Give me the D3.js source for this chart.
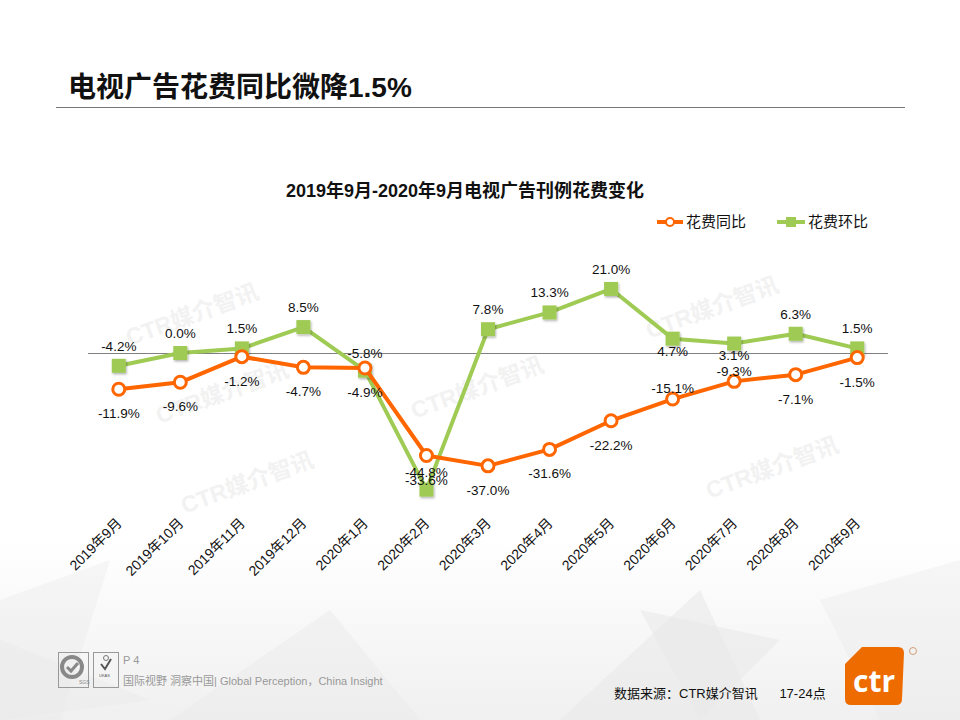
<!DOCTYPE html>
<html lang="zh">
<head>
  <meta charset="UTF-8" />
  <title>电视广告花费同比微降1.5%</title>
  <style>
    body { margin: 0; background: #fff; }
    svg { display: block; font-family: "Liberation Sans", Arial, "Noto Sans CJK SC", sans-serif; }
  </style>
</head>
<body>
  <svg width="960" height="720"></svg>

  <script src="https://cdnjs.cloudflare.com/ajax/libs/d3/7.8.5/d3.min.js"></script>
  <script>
    // chart data
    const months = ["2019年9月", "2019年10月", "2019年11月", "2019年12月", "2020年1月", "2020年2月",
      "2020年3月", "2020年4月", "2020年5月", "2020年6月", "2020年7月", "2020年8月", "2020年9月"];
    // plotted positions (Feb points sit swapped against their labels)
    const tongbi = [-11.9, -9.6, -1.2, -4.7, -4.9, -33.6, -37.0, -31.6, -22.2, -15.1, -9.3, -7.1, -1.5];
    const huanbi = [-4.2, 0.0, 1.5, 8.5, -5.8, -44.8, 7.8, 13.3, 21.0, 4.7, 3.1, 6.3, 1.5];
    const tongbiLabels = ["-11.9%", "-9.6%", "-1.2%", "-4.7%", "-4.9%", "-44.8%", "-37.0%", "-31.6%", "-22.2%", "-15.1%", "-9.3%", "-7.1%", "-1.5%"];
    const huanbiLabels = ["-4.2%", "0.0%", "1.5%", "8.5%", "-5.8%", "-33.6%", "7.8%", "13.3%", "21.0%", "4.7%", "3.1%", "6.3%", "1.5%"];
    const seriesNames = ["花费同比", "花费环比"];
    const yDomain = [-50, 30];

    const orange = "#ff6600";
    const green = "#9fcb55";

    const svg = d3.select("svg");

    // background shading at the bottom
    const defs = svg.append("defs");
    const grad = defs.append("linearGradient").attr("id", "bg").attr("x1", 0).attr("y1", 0).attr("x2", 0).attr("y2", 1);
    grad.append("stop").attr("offset", "0").attr("stop-color", "#fff");
    grad.append("stop").attr("offset", "1").attr("stop-color", "#f0f0f0");
    svg.append("rect").attr("x", 0).attr("y", 540).attr("width", 960).attr("height", 180).attr("fill", "url(#bg)");

    const polys = [
      [[0, 600], [110, 560], [60, 720], [0, 720]],
      [[170, 720], [330, 610], [420, 720]],
      [[560, 720], [700, 590], [760, 720]],
      [[820, 600], [960, 560], [960, 720], [880, 720]],
      [[0, 640], [150, 700], [0, 720]],
      [[640, 610], [780, 640], [700, 720]]
    ];
    svg.append("g").selectAll("polygon").data(polys).join("polygon")
      .attr("points", d => d.map(p => p.join(",")).join(" "))
      .attr("fill", "#e9e9e9")
      .attr("opacity", (d, i) => 0.35 + (i % 3) * 0.12);

    // watermarks
    const marks = [[195, 322], [225, 400], [250, 490], [480, 395], [715, 315], [775, 475]];
    svg.append("g").selectAll("text").data(marks).join("text")
      .attr("transform", d => `translate(${d[0]},${d[1]}) rotate(-20)`)
      .attr("text-anchor", "middle")
      .attr("font-size", 23)
      .attr("font-weight", "bold")
      .attr("fill", "#f2f2f2")
      .text("CTR媒介智讯");

    // page title
    svg.append("text")
      .attr("x", 68).attr("y", 97)
      .attr("font-size", 28).attr("font-weight", "bold")
      .attr("fill", "#111")
      .text("电视广告花费同比微降1.5%");
    svg.append("line")
      .attr("x1", 56).attr("x2", 905).attr("y1", 107.5).attr("y2", 107.5)
      .attr("stroke", "#777").attr("stroke-width", 1);

    // chart title
    svg.append("text")
      .attr("x", 465).attr("y", 197)
      .attr("text-anchor", "middle")
      .attr("font-size", 18).attr("font-weight", "bold")
      .attr("fill", "#111")
      .text("2019年9月-2020年9月电视广告刊例花费变化");

    // scales
    const x = d3.scaleBand().domain(months).range([88, 888]).padding(0);
    const cx = d => x(d) + x.bandwidth() / 2;
    const y = d3.scaleLinear().domain(yDomain).range([505.5, 261.5]);

    // x axis labels, no line or ticks
    const xAxis = svg.append("g")
      .attr("transform", `translate(0,${y(0)})`)
      .call(d3.axisBottom(x).tickSize(0).tickPadding(0));
    xAxis.attr("font-family", null).attr("font-size", null);
    xAxis.select(".domain").remove();
    xAxis.selectAll("text")
      .attr("font-size", 14)
      .attr("fill", "#111")
      .attr("text-anchor", "end")
      .attr("dy", null)
      .attr("transform", `translate(4,${524 - y(0)}) rotate(-45)`);

    // zero line
    svg.append("line")
      .attr("x1", 88).attr("x2", 888)
      .attr("y1", Math.round(y(0)) + 0.5).attr("y2", Math.round(y(0)) + 0.5)
      .attr("stroke", "#808080").attr("stroke-width", 1);

    const line = d3.line().x((d, i) => cx(months[i])).y(d => y(d));

    // green series
    const shadow = defs.append("filter").attr("id", "sh").attr("x", "-30%").attr("y", "-30%").attr("width", "170%").attr("height", "170%");
    shadow.append("feDropShadow").attr("dx", 1).attr("dy", 1.5).attr("stdDeviation", 1).attr("flood-color", "#000").attr("flood-opacity", 0.3);

    svg.append("path").datum(huanbi)
      .attr("d", line).attr("fill", "none")
      .attr("stroke", green).attr("stroke-width", 4).attr("stroke-linejoin", "round");
    svg.append("g").selectAll("rect").data(huanbi).join("rect")
      .attr("x", (d, i) => cx(months[i]) - 7)
      .attr("y", d => y(d) - 7)
      .attr("width", 14).attr("height", 14)
      .attr("fill", green)
      .attr("filter", "url(#sh)");

    // orange series
    svg.append("path").datum(tongbi)
      .attr("d", line).attr("fill", "none")
      .attr("stroke", orange).attr("stroke-width", 4).attr("stroke-linejoin", "round");
    svg.append("g").selectAll("circle").data(tongbi).join("circle")
      .attr("cx", (d, i) => cx(months[i]))
      .attr("cy", d => y(d))
      .attr("r", 6)
      .attr("fill", "#fff")
      .attr("stroke", orange).attr("stroke-width", 3);

    // data labels: green above, orange below, with a few nudged points
    const greenDy = {4: -18, 5: -10, 9: 12, 10: 11};
    const orangeDy = {5: 17, 9: -11, 10: -10};
    const labelGroup = svg.append("g")
      .attr("font-size", 13.5).attr("fill", "#111").attr("text-anchor", "middle");
    labelGroup.selectAll("text.g").data(huanbi).join("text")
      .attr("class", "g")
      .attr("x", (d, i) => cx(months[i]))
      .attr("y", (d, i) => y(d) + (greenDy[i] !== undefined ? greenDy[i] : -20) + 5)
      .text((d, i) => huanbiLabels[i]);
    labelGroup.selectAll("text.o").data(tongbi).join("text")
      .attr("class", "o")
      .attr("x", (d, i) => cx(months[i]))
      .attr("y", (d, i) => y(d) + (orangeDy[i] !== undefined ? orangeDy[i] : 24) + 5)
      .text((d, i) => tongbiLabels[i]);

    // legend
    const legend = svg.append("g").attr("font-size", 15).attr("fill", "#111");
    const lo = legend.append("g").attr("transform", "translate(657,222)");
    lo.append("line").attr("x1", 0).attr("x2", 26).attr("stroke", orange).attr("stroke-width", 4);
    lo.append("circle").attr("cx", 13).attr("r", 4).attr("fill", "#fff").attr("stroke", orange).attr("stroke-width", 2);
    lo.append("text").attr("x", 29).attr("y", 5).text(seriesNames[0]);
    const lg = legend.append("g").attr("transform", "translate(777,222)");
    lg.append("line").attr("x1", 0).attr("x2", 28).attr("stroke", green).attr("stroke-width", 4);
    lg.append("rect").attr("x", 9).attr("y", -5).attr("width", 10).attr("height", 10).attr("fill", green);
    lg.append("text").attr("x", 31).attr("y", 5).text(seriesNames[1]);

    // footer: certification marks
    const cert = svg.append("g").attr("fill", "none").attr("stroke", "#999");
    cert.append("rect").attr("x", 58.5).attr("y", 652.5).attr("width", 30).attr("height", 35);
    cert.append("rect").attr("x", 93.5).attr("y", 652.5).attr("width", 25).attr("height", 35);
    cert.append("circle").attr("cx", 72).attr("cy", 667).attr("r", 10).attr("stroke", "#888").attr("stroke-width", 4);
    cert.append("path").attr("d", "M67,667 l4,4 l7,-8").attr("stroke", "#888").attr("stroke-width", 3);
    cert.append("path").attr("d", "M101,664 l4,5 l6,-10").attr("stroke", "#555").attr("stroke-width", 2);
    cert.append("circle").attr("cx", 106).attr("cy", 658).attr("r", 2.5).attr("stroke", "#777");
    svg.append("text").attr("x", 79).attr("y", 684).attr("font-size", 5).attr("fill", "#888").text("SGS");
    svg.append("text").attr("x", 99).attr("y", 677).attr("font-size", 4).attr("fill", "#555").text("UKAS");

    const foot = svg.append("g").attr("font-size", 11).attr("fill", "#999");
    foot.append("text").attr("x", 123).attr("y", 664).text("P 4");
    foot.append("text").attr("x", 123).attr("y", 685).text("国际视野 洞察中国| Global Perception，China Insight");

    svg.append("text")
      .attr("x", 614).attr("y", 698)
      .attr("font-size", 13).attr("fill", "#111")
      .attr("xml:space", "preserve")
      .text("数据来源：CTR媒介智讯      17-24点");

    // ctr logo
    svg.append("path")
      .attr("d", "M862,647 L898,647 Q904,647 904,653 L902,699 Q902,705 896,705 L851,705 Q845,705 845,699 L845,664 Z")
      .attr("fill", "#ee6b00");
    svg.append("text")
      .attr("x", 874).attr("y", 692)
      .attr("text-anchor", "middle")
      .attr("font-size", 30).attr("font-weight", "bold")
      .attr("font-family", "'Open Sans', 'DejaVu Sans', sans-serif")
      .attr("fill", "#fff")
      .text("ctr");
    svg.append("circle").attr("cx", 913).attr("cy", 651).attr("r", 3.5)
      .attr("fill", "none").attr("stroke", "#c98a5a").attr("stroke-width", 0.8);
  </script>
</body>
</html>
